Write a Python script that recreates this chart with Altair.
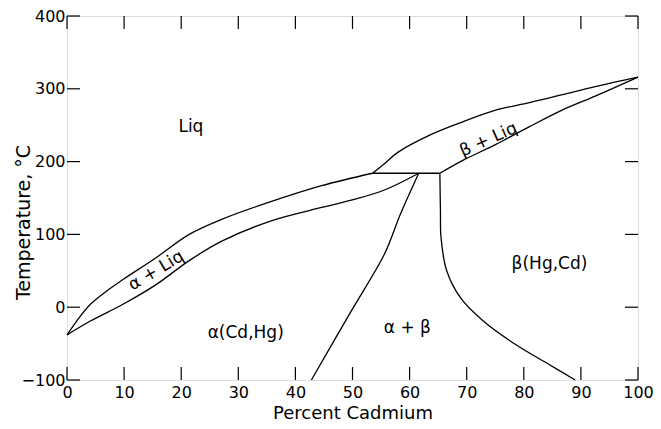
import altair as alt
import pandas as pd

# --- phase boundary curves (Percent Cd, Temperature °C) ---
liq_alpha_x = [0, 1.7, 4.1, 6.9, 9.8, 15.6, 21.4, 27.2, 35.3, 44.6, 53.5]
liq_alpha_y = [-38, -19, 4, 22, 38, 68, 100, 121, 144, 167, 184]

sol_alpha_x = [0, 4.1, 9.8, 15.6, 21.4, 27.2, 35.9, 44.6, 49.8, 55.6, 61.6]
sol_alpha_y = [-38, -19, 4, 31, 64, 91, 119, 137, 147, 161, 184]

peri_x = [53.5, 65.3]
peri_y = [184, 184]

solvus_alpha_x = [61.6, 58.4, 55.6, 49.8, 42.8]
solvus_alpha_y = [184, 128, 73, -5, -100]

solvus_beta_x = [65.3, 65.4, 65.5, 66.5, 68.9, 72.9, 78.7, 84.5, 89.0]
solvus_beta_y = [184, 133, 96, 50, 13, -19, -52, -79, -100]

liq_beta_x = [53.5, 55.6, 57.8, 63.7, 69.4, 75.2, 81.0, 86.8, 92.5, 100]
liq_beta_y = [184, 197, 212, 237, 255, 271, 281, 292, 303, 316]

sol_beta_x = [65.3, 69.4, 75.2, 81.0, 86.8, 92.5, 100]
sol_beta_y = [184, 202, 224, 248, 271, 290, 316]

# --- region labels ---
flat_labels = ["Liq", "α(Cd,Hg)", "α + β", "β(Hg,Cd)"]
flat_x = [21.7, 31.3, 59.6, 84.5]
flat_y = [248, -36, -29, 59]

alpha_liq_label = ["α + Liq"]
alpha_liq_x = [15.6]
alpha_liq_y = [50]

beta_liq_label = ["β + Liq"]
beta_liq_x = [73.8]
beta_liq_y = [230]

x_ticks = list(range(0, 101, 10))
y_ticks = list(range(-100, 401, 100))

X_MIN, X_MAX = 0, 100
Y_MIN, Y_MAX = -100, 400

curves = [
    ("liq_alpha", liq_alpha_x, liq_alpha_y),
    ("sol_alpha", sol_alpha_x, sol_alpha_y),
    ("peritectic", peri_x, peri_y),
    ("solvus_alpha", solvus_alpha_x, solvus_alpha_y),
    ("solvus_beta", solvus_beta_x, solvus_beta_y),
    ("liq_beta", liq_beta_x, liq_beta_y),
    ("sol_beta", sol_beta_x, sol_beta_y),
]
rows = []
for name, xs, ys in curves:
    for i, (xv, yv) in enumerate(zip(xs, ys)):
        rows.append({"curve": name, "x": xv, "y": yv, "order": i})
lines_df = pd.DataFrame(rows)

FONT = "DejaVu Sans"
W, H = 571, 364
TICK_PX = 13
TICK_X = TICK_PX * (X_MAX - X_MIN) / W   # tick length in data units
TICK_Y = TICK_PX * (Y_MAX - Y_MIN) / H
LABEL_SIZE = 17

xscale = alt.Scale(domain=[X_MIN, X_MAX], nice=False, zero=False)
yscale = alt.Scale(domain=[Y_MIN, Y_MAX], nice=False, zero=False)

x_axis = alt.Axis(orient="bottom", values=x_ticks, title="Percent Cadmium",
                  domain=False, grid=False, ticks=False, tickSize=0, labelPadding=4,
                  labelFlush=False, labelOverlap=False, labelFont=FONT,
                  labelFontSize=16, labelColor="black", titleFont=FONT,
                  titleFontSize=18, titleFontWeight="normal", titleColor="black",
                  titlePadding=4)
y_axis = alt.Axis(orient="left", values=y_ticks, title="Temperature, °C",
                  domain=False, grid=False, ticks=False, tickSize=0, labelPadding=2,
                  labelOverlap=False, labelFont=FONT, labelFontSize=16,
                  labelColor="black", titleFont=FONT, titleFontSize=19,
                  titleFontWeight="normal", titleColor="black",
                  titleAngle=270, titleX=-44, titleY=206, titleAlign="center",
                  titleBaseline="middle")

lines = alt.Chart(lines_df).mark_line(
    color="black", strokeWidth=1.3, interpolate="catmull-rom"
).encode(
    x=alt.X("x:Q", scale=xscale, axis=x_axis),
    y=alt.Y("y:Q", scale=yscale, axis=y_axis),
    detail="curve:N",
    order="order:Q",
)

tick_style = dict(color="black", strokeWidth=1.2)
xt_df = pd.DataFrame({"t": x_ticks})
yt_df = pd.DataFrame({"t": y_ticks})

bottom_ticks = alt.Chart(xt_df).mark_rule(**tick_style).encode(
    x=alt.X("t:Q", scale=xscale, axis=x_axis),
    y=alt.Y(datum=Y_MIN, scale=yscale, axis=y_axis),
    y2=alt.Y2(datum=Y_MIN + TICK_Y),
)
top_ticks = alt.Chart(xt_df).mark_rule(**tick_style).encode(
    x=alt.X("t:Q", scale=xscale, axis=x_axis),
    y=alt.Y(datum=Y_MAX, scale=yscale, axis=y_axis),
    y2=alt.Y2(datum=Y_MAX - TICK_Y),
)
left_ticks = alt.Chart(yt_df).mark_rule(**tick_style).encode(
    y=alt.Y("t:Q", scale=yscale, axis=y_axis),
    x=alt.X(datum=X_MIN, scale=xscale, axis=x_axis),
    x2=alt.X2(datum=X_MIN + TICK_X),
)
right_ticks = alt.Chart(yt_df).mark_rule(**tick_style).encode(
    y=alt.Y("t:Q", scale=yscale, axis=y_axis),
    x=alt.X(datum=X_MAX, scale=xscale, axis=x_axis),
    x2=alt.X2(datum=X_MAX - TICK_X),
)

flat_df = pd.DataFrame({"label": flat_labels, "x": flat_x, "y": flat_y})
flat = alt.Chart(flat_df).mark_text(font=FONT, fontSize=LABEL_SIZE, color="black").encode(
    x=alt.X("x:Q", scale=xscale, axis=x_axis),
    y=alt.Y("y:Q", scale=yscale, axis=y_axis),
    text="label:N",
)

a_df = pd.DataFrame({"label": alpha_liq_label, "x": alpha_liq_x, "y": alpha_liq_y})
a_txt = alt.Chart(a_df).mark_text(font=FONT, fontSize=LABEL_SIZE, color="black", angle=329).encode(
    x=alt.X("x:Q", scale=xscale, axis=x_axis),
    y=alt.Y("y:Q", scale=yscale, axis=y_axis),
    text="label:N",
)

b_df = pd.DataFrame({"label": beta_liq_label, "x": beta_liq_x, "y": beta_liq_y})
b_txt = alt.Chart(b_df).mark_text(font=FONT, fontSize=LABEL_SIZE, color="black", angle=336).encode(
    x=alt.X("x:Q", scale=xscale, axis=x_axis),
    y=alt.Y("y:Q", scale=yscale, axis=y_axis),
    text="label:N",
)

chart = alt.layer(
    lines, bottom_ticks, top_ticks, left_ticks, right_ticks, flat, a_txt, b_txt
).properties(
    width=W,
    height=H,
    autosize=alt.AutoSizeParams(type="none"),
    padding={"left": 59, "top": 8, "right": 15, "bottom": 41},
).configure_view(stroke="black", strokeWidth=1.3).configure(background="white")

chart.save("out.html", embed_options={"renderer": "svg", "actions": False})
